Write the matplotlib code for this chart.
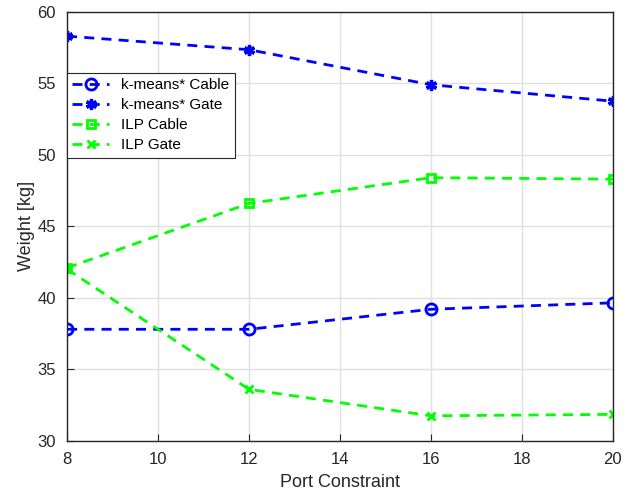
import matplotlib
matplotlib.use('Agg')
import matplotlib.pyplot as plt

plt.rcParams['font.family'] = ['Liberation Sans', 'DejaVu Sans']

ports = [8, 12, 16, 20]
kmeans_cable = [37.8, 37.8, 39.2, 39.65]
kmeans_gate = [58.3, 57.35, 54.9, 53.75]
ilp_cable = [42.1, 46.6, 48.4, 48.3]
ilp_gate = [42.0, 33.6, 31.75, 31.85]

blue = '#0000ff'
green = '#00ff00'

fig = plt.figure(figsize=(6.33, 4.92), dpi=100)
ax = fig.add_axes([0.106, 0.104, 0.862, 0.872])

style = dict(linestyle='--', linewidth=2.0, dashes=(3.6, 2.6))
ax.plot(ports, kmeans_cable, color=blue, marker='o', markersize=8, markerfacecolor='none',
        markeredgewidth=2.0, label='k-means* Cable', **style)
ax.plot(ports, kmeans_gate, color=blue, marker=(6, 2, 0), markersize=8,
        markeredgewidth=2.4, label='k-means* Gate', **style)
ax.plot(ports, ilp_cable, color=green, marker='s', markersize=6, markerfacecolor='none',
        markeredgewidth=2.0, label='ILP Cable', **style)
ax.plot(ports, ilp_gate, color=green, marker='x', markersize=5.5,
        markeredgewidth=2.0, label='ILP Gate', **style)

ax.set_xlim(8, 20)
ax.set_ylim(30, 60)
ax.set_xticks(range(8, 21, 2))
ax.set_yticks(range(30, 61, 5))
ax.grid(True, color='#e0e0e0', linewidth=1)
ax.set_axisbelow(True)
ax.tick_params(direction='in', labelsize=12, length=5, width=0.8, colors='#262626')
ax.tick_params(axis='x', pad=8)
ax.tick_params(axis='y', pad=8)
for s in ax.spines.values():
    s.set_color('#262626')
    s.set_linewidth(1)

ax.set_xlabel('Port Constraint', fontsize=13, color='#262626', labelpad=5)
ax.set_ylabel('Weight [kg]', fontsize=13, color='#262626', labelpad=2)

leg = ax.legend(loc='upper left', bbox_to_anchor=(0.0, 0.858), fontsize=11,
                fancybox=False, edgecolor='#262626', framealpha=1, borderpad=0.35,
                labelspacing=0.4, handlelength=2.4, handletextpad=0.8, borderaxespad=0.0)
leg.get_frame().set_linewidth(0.8)

fig.savefig('out.png', dpi=100)
